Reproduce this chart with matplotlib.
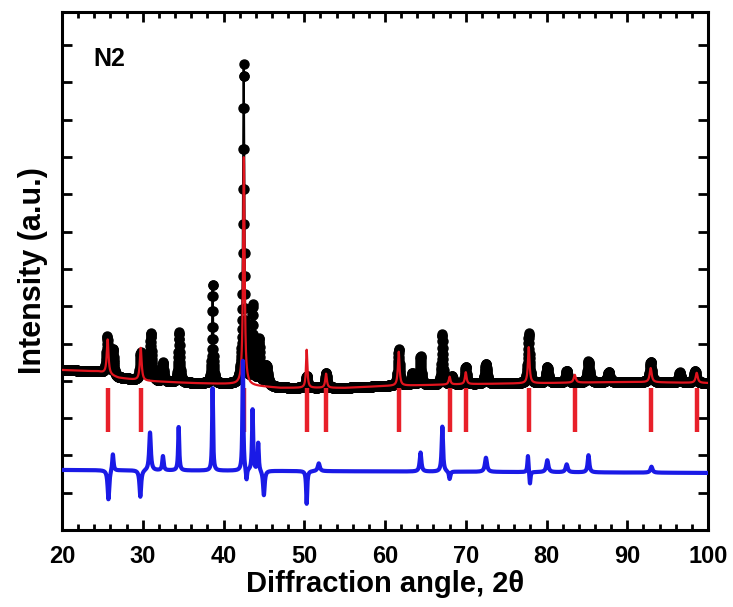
import numpy as np
import matplotlib
matplotlib.use("Agg")
import matplotlib.pyplot as plt
from matplotlib.ticker import MultipleLocator

plt.rcParams['font.family'] = ['Liberation Sans', 'DejaVu Sans']
plt.rcParams['font.weight'] = 'bold'

# ---------------- data ----------------
# background of observed / calculated pattern (2theta, intensity a.u.)
bg_pos = [20, 24.5, 27, 30, 36, 41, 47, 55, 60, 70, 80, 90, 100]
bg_val = [4.29, 4.25, 4.08, 4.00, 3.94, 3.91, 3.81, 3.81, 3.86, 3.91, 3.94, 3.97, 3.94]

# observed peaks: position, height above background, half width
obs_pos = [25.6, 26.3, 29.75, 30.3, 31.0, 32.5, 34.5, 38.65, 42.5, 43.6, 44.4, 45.3,
           50.3, 52.7, 61.7, 63.4, 64.4, 67.1, 68.3, 70.0, 72.5, 77.8, 80.1, 82.5,
           85.2, 87.7, 92.9, 96.5, 98.4]
obs_h = [0.99, 0.70, 0.72, 0.59, 1.26, 0.51, 1.34, 2.68, 8.58, 2.09, 1.21, 0.54,
         0.32, 0.40, 0.97, 0.32, 0.78, 1.34, 0.21, 0.46, 0.54, 1.34, 0.43, 0.32,
         0.56, 0.27, 0.54, 0.27, 0.32]
obs_w = [0.12, 0.12, 0.12, 0.10, 0.13, 0.10, 0.10, 0.08, 0.10, 0.10, 0.12, 0.20,
         0.12, 0.12, 0.12, 0.12, 0.12, 0.10, 0.12, 0.12, 0.15, 0.12, 0.15, 0.15,
         0.15, 0.15, 0.15, 0.15, 0.15]

# calculated peaks (Bragg positions)
bragg_pos = [25.65, 29.75, 42.52, 50.3, 52.7, 61.7, 68.0, 70.0, 77.8, 83.5, 92.9, 98.6]
calc_h = [0.94, 0.88, 6.11, 1.02, 0.38, 0.91, 0.21, 0.32, 0.97, 0.21, 0.38, 0.27]
calc_w = [0.13, 0.13, 0.11, 0.10, 0.12, 0.12, 0.12, 0.12, 0.12, 0.15, 0.15, 0.15]

# difference curve: baseline and signed features
diff_base_pos = [20, 100]
diff_base_val = [1.61, 1.53]
diff_pos = [25.75, 26.3, 29.7, 30.9, 32.5, 34.45, 38.65, 42.4, 42.85, 43.6, 44.3, 45.0,
            50.3, 51.8, 64.4, 67.1, 68.0, 72.5, 77.7, 77.95, 80.1, 82.5, 85.2, 93.0]
diff_h = [-0.80, 0.46, -0.72, 1.02, 0.38, 1.18, 2.25, 2.95, -0.32, 1.64, 0.75, -0.67,
          -0.88, 0.21, 0.51, 1.21, -0.21, 0.38, 0.46, -0.35, 0.32, 0.21, 0.46, 0.16]
diff_w = [0.12, 0.10, 0.12, 0.12, 0.10, 0.08, 0.07, 0.07, 0.08, 0.08, 0.08, 0.12,
          0.08, 0.15, 0.12, 0.10, 0.10, 0.15, 0.08, 0.08, 0.15, 0.15, 0.12, 0.15]

bragg_top = 3.81
bragg_bottom = 2.63

# ---------------- profiles ----------------
tt = np.arange(20.0, 100.0001, 0.02)


def profile(pos, h, w):
    y = np.zeros_like(tt)
    for p, a, g in zip(pos, h, w):
        y += a / (1.0 + ((tt - p) / g) ** 2)
    return y


background = np.interp(tt, bg_pos, bg_val)
y_obs = background + profile(obs_pos, obs_h, obs_w)
y_calc = background + profile(bragg_pos, calc_h, calc_w)
y_diff = np.interp(tt, diff_base_pos, diff_base_val) + profile(diff_pos, diff_h, diff_w)

# ---------------- figure ----------------
fig = plt.figure(figsize=(7.33, 6.07), dpi=100)
ax = fig.add_axes([62 / 733, 77 / 607, 646 / 733, 518 / 607])

ax.plot(tt, y_obs, color='black', lw=1.5, marker='o', ms=6.5, mec='black', mfc='black',
        zorder=2)
ax.plot(tt, y_calc, color='#e0141e', lw=1.6, zorder=3)
ax.vlines(bragg_pos, bragg_bottom, bragg_top, color='#e8202a', lw=3.2, zorder=3)
ax.plot(tt, y_diff, color='#1a1ae6', lw=3.0, zorder=4)

ax.set_xlim(20, 100)
ax.set_ylim(0, 518 / 37.3)
ax.xaxis.set_major_locator(MultipleLocator(10))
ax.xaxis.set_minor_locator(MultipleLocator(2))
ax.yaxis.set_major_locator(MultipleLocator(1))
ax.set_yticklabels([])

ax.tick_params(axis='both', which='major', direction='in', length=7, width=2,
               top=True, right=True, labelsize=17, pad=11)
ax.tick_params(axis='x', which='minor', direction='in', length=4, width=2, top=True)
for lab in ax.get_xticklabels():
    lab.set_fontweight('bold')
for s in ax.spines.values():
    s.set_linewidth(2.2)

ax.set_xlabel('Diffraction angle, 2θ', fontsize=21, fontweight='bold', labelpad=1)
ax.set_ylabel('Intensity (a.u.)', fontsize=22, fontweight='bold', labelpad=-1)
ax.text(0.048, 0.896, 'N2', transform=ax.transAxes, fontsize=18, fontweight='bold',
        va='baseline', ha='left')

fig.savefig('out.png', dpi=100)
